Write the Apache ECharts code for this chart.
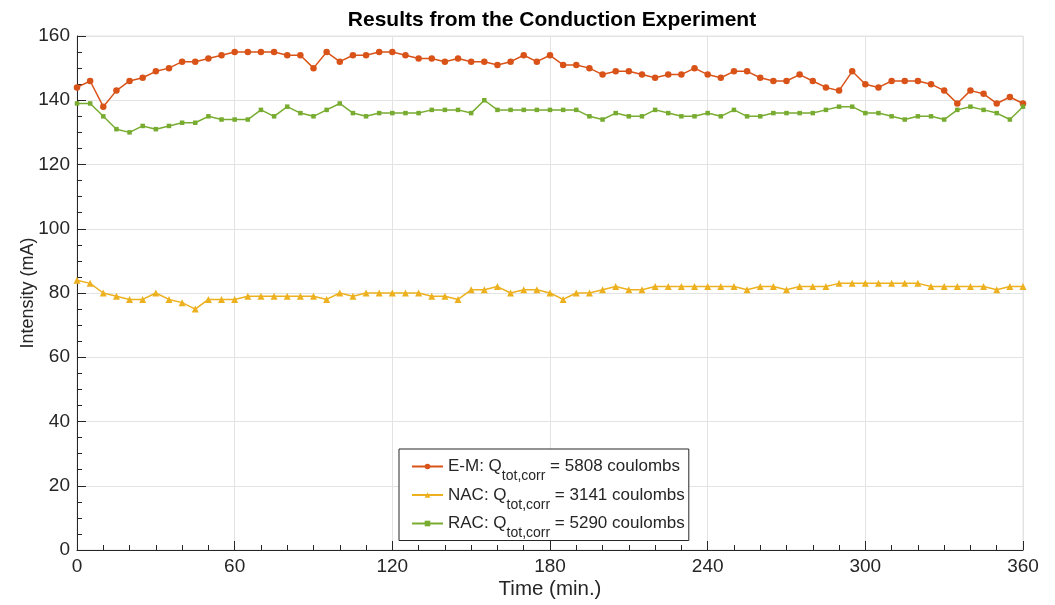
<!DOCTYPE html>
<html>
<head>
<meta charset="utf-8">
<title>Results from the Conduction Experiment</title>
<script src="https://cdn.jsdelivr.net/npm/echarts@6/dist/echarts.min.js"></script>
<style>
  html, body { margin: 0; padding: 0; background: #fff; }
  #chart { width: 1055px; height: 605px; }
</style>
</head>
<body>
<div id="chart"></div>
<script>
// time axis (min.), one reading every 5 minutes
const times = [0, 5, 10, 15, 20, 25, 30, 35, 40, 45, 50, 55,
  60, 65, 70, 75, 80, 85, 90, 95, 100, 105, 110, 115,
  120, 125, 130, 135, 140, 145, 150, 155, 160, 165, 170, 175,
  180, 185, 190, 195, 200, 205, 210, 215, 220, 225, 230, 235,
  240, 245, 250, 255, 260, 265, 270, 275, 280, 285, 290, 295,
  300, 305, 310, 315, 320, 325, 330, 335, 340, 345, 350, 355, 360];

// intensity (mA)
const emValues = [144, 146, 138, 143, 146, 147, 149, 150, 152, 152, 153, 154,
  155, 155, 155, 155, 154, 154, 150, 155, 152, 154, 154, 155,
  155, 154, 153, 153, 152, 153, 152, 152, 151, 152, 154, 152,
  154, 151, 151, 150, 148, 149, 149, 148, 147, 148, 148, 150,
  148, 147, 149, 149, 147, 146, 146, 148, 146, 144, 143, 149,
  145, 144, 146, 146, 146, 145, 143, 139, 143, 142, 139, 141, 139];

const nacValues = [84, 83, 80, 79, 78, 78, 80, 78, 77, 75, 78, 78,
  78, 79, 79, 79, 79, 79, 79, 78, 80, 79, 80, 80,
  80, 80, 80, 79, 79, 78, 81, 81, 82, 80, 81, 81,
  80, 78, 80, 80, 81, 82, 81, 81, 82, 82, 82, 82,
  82, 82, 82, 81, 82, 82, 81, 82, 82, 82, 83, 83,
  83, 83, 83, 83, 83, 82, 82, 82, 82, 82, 81, 82, 82];

const racValues = [139, 139, 135, 131, 130, 132, 131, 132, 133, 133, 135, 134,
  134, 134, 137, 135, 138, 136, 135, 137, 139, 136, 135, 136,
  136, 136, 136, 137, 137, 137, 136, 140, 137, 137, 137, 137,
  137, 137, 137, 135, 134, 136, 135, 135, 137, 136, 135, 135,
  136, 135, 137, 135, 135, 136, 136, 136, 136, 137, 138, 138,
  136, 136, 135, 134, 135, 135, 134, 137, 138, 137, 136, 134, 138];

const seriesNames = ['E-M', 'NAC', 'RAC'];
const charges = { 'E-M': 5808, 'NAC': 3141, 'RAC': 5290 };

const textColor = '#262626';
const gridColor = '#e3e3e3';
const font = '"Liberation Sans", Arial, Helvetica, sans-serif';

function pairs(values) {
  return times.map((t, i) => [t, values[i]]);
}

const chart = echarts.init(document.getElementById('chart'));

const axisCommon = {
  axisLine: { show: true, lineStyle: { color: textColor, width: 1 } },
  axisTick: { show: true, inside: true, length: 9, lineStyle: { color: textColor } },
  minorTick: { show: true, length: 5, lineStyle: { color: textColor } },
  axisLabel: { color: textColor, fontSize: 19, fontFamily: font, margin: 7 },
  splitLine: { show: true, lineStyle: { color: gridColor, width: 1 } },
  nameMoveOverlap: false,
  nameTextStyle: { color: textColor, fontSize: 18, fontFamily: font }
};

chart.setOption({
  animation: false,
  backgroundColor: '#fff',
  title: {
    text: 'Results from the Conduction Experiment',
    left: 547,
    textAlign: 'center',
    top: 5,
    textStyle: { fontSize: 21, fontWeight: 'bold', color: '#000', fontFamily: font }
  },
  grid: {
    left: 77, right: 32, top: 36, bottom: 54,
    show: true, borderColor: gridColor, borderWidth: 1
  },
  xAxis: Object.assign({}, axisCommon, {
    type: 'value',
    min: 0, max: 360, interval: 60,
    minorTick: Object.assign({}, axisCommon.minorTick, { splitNumber: 6 }),
    name: 'Time (min.)',
    nameLocation: 'middle',
    nameGap: 29,
    nameTextStyle: { color: textColor, fontSize: 20.5, fontFamily: font }
  }),
  yAxis: Object.assign({}, axisCommon, {
    type: 'value',
    min: 0, max: 160, interval: 20,
    minorTick: Object.assign({}, axisCommon.minorTick, { splitNumber: 4 }),
    name: 'Intensity (mA)',
    nameLocation: 'middle',
    nameGap: 40
  }),
  legend: {
    orient: 'vertical',
    left: 399,
    top: 449,
    data: seriesNames,
    itemWidth: 31,
    itemHeight: 7,
    itemGap: 3,
    padding: [9, 4, 0, 12],
    backgroundColor: '#fff',
    borderColor: textColor,
    borderWidth: 1,
    borderRadius: 0,
    formatter: function (name) {
      return '{n|' + name + ': Q}{s|tot,corr}{n| = ' + charges[name] + ' coulombs}';
    },
    textStyle: {
      color: textColor,
      fontFamily: font,
      rich: {
        n: { fontSize: 17, lineHeight: 29, color: textColor, fontFamily: font },
        s: { fontSize: 14, height: 9, verticalAlign: 'bottom', color: textColor, fontFamily: font }
      }
    }
  },
  series: [
    {
      name: 'E-M', type: 'line', data: pairs(emValues),
      symbol: 'circle', symbolSize: 6.5,
      color: '#D95319',
      lineStyle: { width: 1.5 }
    },
    {
      name: 'NAC', type: 'line', data: pairs(nacValues),
      symbol: 'triangle', symbolSize: 7,
      color: '#EDB120',
      lineStyle: { width: 1.5 }
    },
    {
      name: 'RAC', type: 'line', data: pairs(racValues),
      symbol: 'rect', symbolSize: 4.5,
      color: '#77AC30',
      lineStyle: { width: 1.5 }
    }
  ]
});
</script>
</body>
</html>
